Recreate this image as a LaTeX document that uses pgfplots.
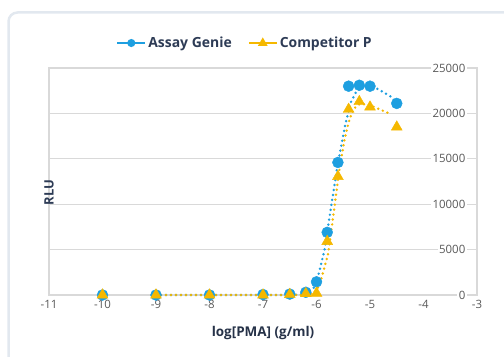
\documentclass[border=0pt]{standalone}
\usepackage{pgfplots}
\pgfplotsset{compat=1.18}
\usepackage{fontspec}
\setmainfont{Open Sans}
\definecolor{ag}{HTML}{1E9FE0}
\definecolor{cp}{HTML}{F5B800}
\definecolor{gridc}{HTML}{D9D9D9}
\definecolor{tickc}{HTML}{595959}
\definecolor{navy}{HTML}{2D3B55}
\definecolor{framec}{HTML}{E2E8EF}
\begin{document}
\begin{tikzpicture}[x=1bp,y=1bp]
\clip (0,0) rectangle (504,356);
\draw[framec, line width=2.5bp, rounded corners=9bp] (8.5,-30) rectangle (530,343.5);
\begin{axis}[
  at={(49bp,61bp)}, anchor=south west,
  scale only axis, width=428bp, height=227bp,
  xmin=-11, xmax=-3, ymin=0, ymax=25000,
  xtick={-11,-10,...,-3},
  ytick={0,5000,10000,15000,20000,25000},
  scaled y ticks=false,
  /pgf/number format/assume math mode=true,
  /pgf/number format/1000 sep={},
  major tick length=0pt,
  ymajorgrids,
  grid style={gridc, line width=1.2bp},
  axis line style={gridc, line width=1.2bp},
  tick label style={font=\fontsize{11.5}{13}\selectfont, text=tickc},
  xticklabel style={yshift=-2bp},
  yticklabel pos=right,
  yticklabel style={anchor=east, xshift=-10bp, fill=white, inner sep=1.5bp},
  xlabel={log[PMA] (g/ml)},
  xlabel style={at={(rel axis cs:0.5,0)}, anchor=center, yshift=-38bp, font=\fontsize{13.5}{15}\selectfont\bfseries, text=navy!85!black},
  ylabel={RLU},
  ylabel style={at={(rel axis cs:0,0.5)}, anchor=center, xshift=-11bp, rotate=0, font=\fontsize{13}{15}\selectfont\bfseries, text=navy},
  legend style={at={(rel axis cs:0.458,1)}, anchor=center, yshift=25bp, draw=none, fill=none,
    font=\fontsize{14}{16}\selectfont\bfseries, text=navy,
    /tikz/every even column/.append style={column sep=14bp}},
  legend columns=2,
  legend image code/.code={\draw[mark repeat=2, mark phase=2, #1] plot coordinates {(0bp,0bp) (14bp,0bp) (28bp,0bp)};},
  clip=false,
]
\addlegendimage{ag, line width=2bp, solid, mark=*, mark size=3bp}
\addlegendentry{Assay Genie}
\addlegendimage{cp, line width=2bp, solid, mark=triangle*, mark size=3.6bp}
\addlegendentry{Competitor P}

% Assay Genie fitted dotted curve
\addplot[ag, line width=2.7bp, line cap=round, dash pattern=on 0bp off 5bp, forget plot] coordinates {
(-9,0) (-8,0) (-7,0) (-6.5,0) (-6.2,100) (-6.05,800) (-5.95,2500) (-5.85,5000) (-5.72,10000) (-5.6,14500) (-5.46,18800) (-5.36,21200) (-5.25,22500) (-5.1,23000) (-4.95,23000) (-4.77,22400) (-4.6,21800) (-4.5,21200)};
% Competitor P fitted dotted curve
\addplot[cp, line width=2.7bp, line cap=round, dash pattern=on 0bp off 5bp, forget plot] coordinates {
(-9,0) (-8,0) (-7,0) (-6.5,0) (-6.2,0) (-6.05,200) (-5.95,1000) (-5.88,2400) (-5.78,4600) (-5.68,9000) (-5.58,13500) (-5.48,17000) (-5.4,19000) (-5.31,20500) (-5.2,21000) (-5.05,21000) (-4.84,20500) (-4.6,19900)};
% Assay Genie data
\addplot[only marks, mark=*, mark size=5.5bp, ag, forget plot] coordinates {
(-10,0) (-9,0) (-8,0) (-7,50) (-6.5,100) (-6.2,300) (-6,1450) (-5.8,6900) (-5.6,14600) (-5.4,23000) (-5.2,23100) (-5,23000) (-4.5,21100)};
% Competitor P data
\addplot[only marks, mark=triangle*, mark size=6.3bp, cp, forget plot] coordinates {
(-10,0) (-9,0) (-8,0) (-7,0) (-6.5,50) (-6.2,150) (-6,200) (-5.8,5900) (-5.6,13050) (-5.4,20450) (-5.2,21300) (-5,20700) (-4.5,18500)};
\end{axis}
\end{tikzpicture}
\end{document}
